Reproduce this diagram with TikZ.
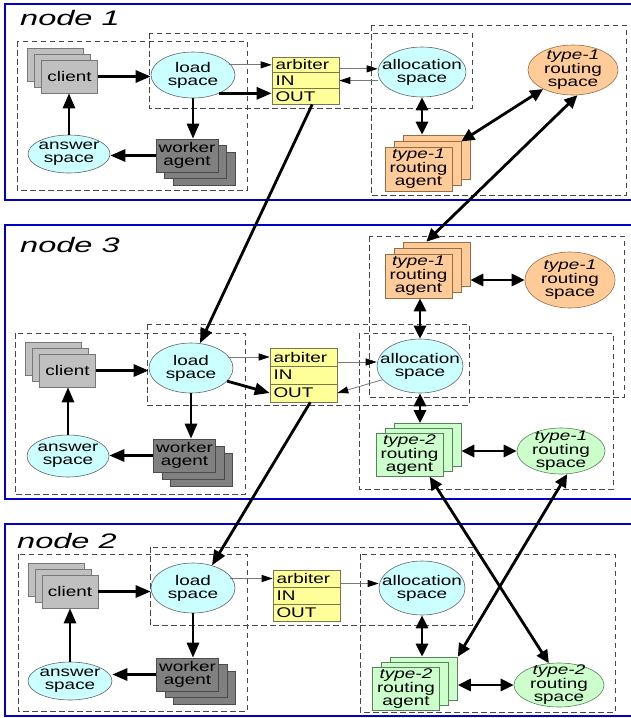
\documentclass[tikz,border=0pt]{standalone}
\usepackage{fontspec}
\setmainfont{Liberation Sans}[FakeStretch=1.35]
\newfontfamily\lblfont{Liberation Sans}[FakeStretch=1.55]
\usetikzlibrary{arrows.meta,calc,shapes.geometric}
\definecolor{blueB}{RGB}{0,0,200}
\definecolor{dashC}{RGB}{70,70,70}
\definecolor{cyanF}{RGB}{204,255,255}
\definecolor{cyanD}{RGB}{100,100,100}
\definecolor{grayF}{RGB}{192,192,192}
\definecolor{grayD}{RGB}{120,120,120}
\definecolor{darkF}{RGB}{128,128,128}
\definecolor{darkD}{RGB}{75,75,75}
\definecolor{yelF}{RGB}{255,255,153}
\definecolor{yelD}{RGB}{120,120,80}
\definecolor{oraF}{RGB}{255,204,153}
\definecolor{oraD}{RGB}{150,110,70}
\definecolor{grnF}{RGB}{204,255,204}
\definecolor{grnD}{RGB}{90,130,90}
\newcommand\stk[7]{%
  \node[#6] (#1b) at ({#2+2*(#4)},{#3+2*(#5)}) {};
  \node[#6] (#1m) at ({#2+(#4)},{#3+(#5)}) {};
  \node[#6] (#1) at (#2,#3) {#7};}
\newcommand\elnode[7]{%
  \node[#6, minimum width=#4pt, minimum height=#5pt] (#1) at (#2,#3) {};
  \node[txt] (#1t) at (#1) {#7};}
\newcommand\tbl[4]{%
  \node[trow, minimum height=#4pt] (#1a) at ({#2+33.5},{#3+0.5*#4}) {arbiter};
  \node[trow, minimum height=#4pt] (#1i) at ({#2+33.5},{#3+1.5*#4}) {IN};
  \node[trow, minimum height=#4pt] (#1o) at ({#2+33.5},{#3+2.5*#4}) {OUT};}
\tikzset{
  ob/.style={draw=blueB, line width=2.5pt},
  db/.style={draw=dashC, dash pattern=on 5.5pt off 3.5pt, line width=0.8pt},
  txt/.style={align=center, inner sep=0pt, font=\fontsize{14}{13}\selectfont},
  lbl/.style={inner sep=0pt, font=\lblfont\itshape\fontsize{21}{24}\selectfont},
  cyanel/.style={ellipse, draw=cyanD, fill=cyanF, line width=0.6pt, inner sep=0pt},
  oraell/.style={ellipse, draw=oraD, fill=oraF, line width=0.6pt, inner sep=0pt},
  grnell/.style={ellipse, draw=grnD, fill=grnF, line width=0.6pt, inner sep=0pt},
  sbox/.style={rectangle, line width=0.6pt, inner sep=0pt, align=center, font=\fontsize{14}{13}\selectfont},
  clientbox/.style={sbox, draw=grayD, fill=grayF, minimum width=56pt, minimum height=33pt},
  workerbox/.style={sbox, draw=darkD, fill=darkF, minimum width=62pt, minimum height=33pt},
  orabox/.style={sbox, draw=oraD, fill=oraF, minimum width=67pt, minimum height=44pt},
  grnbox/.style={sbox, draw=grnD, fill=grnF, minimum width=67pt, minimum height=43pt},
  trow/.style={rectangle, draw=yelD, fill=yelF, line width=0.6pt, minimum width=67pt, text width=60pt, inner xsep=3.5pt, inner ysep=0pt, align=left, font=\fontsize{14}{13}\selectfont},
  tk/.style={line width=2.8pt, -{Triangle[length=15pt,width=12pt]}},
  tkd/.style={line width=2.8pt, {Triangle[length=13pt,width=12pt]}-{Triangle[length=13pt,width=12pt]}},
  tn/.style={draw=grayD, line width=0.8pt, -{Triangle[length=11pt,width=7pt,color=black]}}
}
\begin{document}
\begin{tikzpicture}[x=1pt,y=-1pt]
\useasboundingbox (0,0) rectangle (631,718);
\clip (0,0) rectangle (631,718);
\fill[white] (0,0) rectangle (631,718);
% outer boxes
\draw[ob] (5,4) rectangle (645,200);
\draw[ob] (5,225) rectangle (645,499);
\draw[ob] (5,524) rectangle (645,716);
\node[lbl, anchor=base west] (n1) at (20,25) {node 1};
\node[lbl, anchor=base west] (n3) at (20,252) {node 3};
\node[lbl, anchor=base west] (n2) at (17,548) {node 2};
% dashed groups
\draw[db] (17,41) rectangle (247,190);
\draw[db] (149,33) rectangle (472,108);
\draw[db] (371,25) rectangle (626,195);
\draw[db] (15,333) rectangle (245,494);
\draw[db] (147,324) rectangle (469,405);
\draw[db] (369,236) rectangle (624,397);
\draw[db] (359,333) rectangle (613,489);
\draw[db] (18,554) rectangle (247,711);
\draw[db] (150,547) rectangle (472,625);
\draw[db] (360,554) rectangle (615,712);
% ---- node 1
\stk{c1}{69.5}{76.5}{-7}{-6}{clientbox}{client}
\elnode{l1}{193}{75}{84}{46}{cyanel}{load\\space}
\tbl{t1}{272}{57}{15.7}
\stk{w1}{187}{155.5}{8.5}{6.5}{workerbox}{worker\\agent}
\elnode{ans1}{69}{154}{82}{38}{cyanel}{answer\\space}
\elnode{al1}{422}{72}{88}{50}{cyanel}{allocation\\space}
\elnode{rs1}{573}{70}{90}{50}{oraell}{\textit{type-1}\\routing\\space}
\stk{ag1}{418.5}{169}{9}{-6}{orabox}{\textit{type-1}\\routing\\agent}
% ---- node 3
\stk{c3}{67.5}{370.5}{-7}{-6}{clientbox}{client}
\elnode{l3}{191}{368}{84}{50}{cyanel}{load\\space}
\tbl{t3}{270}{348}{18}
\stk{w3}{184.5}{455.5}{8.5}{7}{workerbox}{worker\\agent}
\elnode{ans3}{68}{456}{82}{42}{cyanel}{answer\\space}
\elnode{al3}{420}{366}{86}{54}{cyanel}{allocation\\space}
\stk{ag3}{418.5}{276}{9}{-6}{orabox}{\textit{type-1}\\routing\\agent}
\elnode{rs3}{570}{280}{90}{56}{oraell}{\textit{type-1}\\routing\\space}
\stk{g3}{409.5}{455}{9}{-5}{grnbox}{\textit{type-2}\\routing\\agent}
\elnode{gs3}{561}{451}{88}{46}{grnell}{\textit{type-1}\\routing\\space}
% ---- node 2
\stk{c2}{70}{591.5}{-7}{-6}{clientbox}{client}
\elnode{l2}{193}{588}{84}{50}{cyanel}{load\\space}
\tbl{t2}{273}{570}{17}
\stk{w2}{187.5}{674.5}{8.5}{6.5}{workerbox}{worker\\agent}
\elnode{ans2}{70}{681}{84}{38}{cyanel}{answer\\space}
\elnode{al2}{422}{588}{86}{54}{cyanel}{allocation\\space}
\stk{g2}{406}{688.5}{9}{-5}{grnbox}{\textit{type-2}\\routing\\agent}
\elnode{gs2}{559}{685}{90}{44}{grnell}{\textit{type-2}\\routing\\space}
% ---- arrows node 1
\draw[tk] (c1.east) -- (c1.east -| l1.west);
\draw[tn] (l1.18 |- t1a) -- (t1a.west);
\draw[tk] (l1.-35) -- (l1.-35 -| t1o.west);
\draw[tk] (l1.south) -- (l1.south |- w1.north);
\draw[tk] (w1.west) -- (w1.west -| ans1.east);
\draw[tk] (ans1.north) -- (ans1.north |- c1.south);
\coordinate (p1) at ($(t1a.east)+(0,4)$);
\draw[tn] (p1) -- (p1 -| al1.west);
\draw[tn] (al1.west |- t1i) -- (t1i.east);
\draw[tkd] (al1.south) -- (al1.south |- ag1b.north);
\draw[tkd] (ag1m) -- (rs1);
% ---- arrows node 3
\draw[tk] (c3.east) -- (c3.east -| l3.west);
\draw[tn] (l3.18 |- t3a) -- (t3a.west);
\draw[tk] (l3.-20) -- (t3o.west);
\draw[tk] (l3.south) -- (l3.south |- w3.north);
\draw[tk] (w3.west) -- (w3.west -| ans3.east);
\draw[tk] (ans3.north) -- (ans3.north |- c3.south);
\coordinate (p3) at ($(t3a.east)+(0,5)$);
\draw[tn] (p3) -- (p3 -| al3.west);
\draw[tn] (al3.200) -- (t3o.east);
\draw[tkd] (al3.north) -- (al3.north |- ag3.south);
\draw[tkd] (rs3.west) -- (rs3.west -| ag3b.east);
\draw[tkd] (al3.south) -- (al3.south |- g3b.north);
\draw[tkd] (gs3.west) -- (gs3.west -| g3b.east);
% ---- arrows node 2
\draw[tk] (c2.east) -- (c2.east -| l2.west);
\draw[tn] (l2.18 |- t2a) -- (t2a.west);
\draw[tk] (l2.south) -- (l2.south |- w2.north);
\draw[tk] (w2.west) -- (w2.west -| ans2.east);
\draw[tk] (ans2.north) -- (ans2.north |- c2.south);
\coordinate (p2) at ($(t2a.east)+(0,5)$);
\draw[tn] (p2) -- (p2 -| al2.west);
\draw[tkd] (al2.south) -- (al2.south |- g2b.north);
\draw[tkd] (gs2.west) -- (gs2.west -| g2b.east);
% ---- cross-node arrows
\draw[tk] ($(t1o.south west)!0.6!(t1o.south east)$) -- (l3.70);
\draw[tkd] (rs1.-80) -- ($(ag3b.north west)!0.35!(ag3b.north east)$);
\draw[tk] ($(t3o.south west)!0.6!(t3o.south east)$) -- (l2.50);
\draw[tkd] ($(g3.south west)!0.8!(g3.south east)$) -- (gs2.115);
\draw[tkd] (gs3.-75) -- (g2b.north east);
\end{tikzpicture}
\end{document}
